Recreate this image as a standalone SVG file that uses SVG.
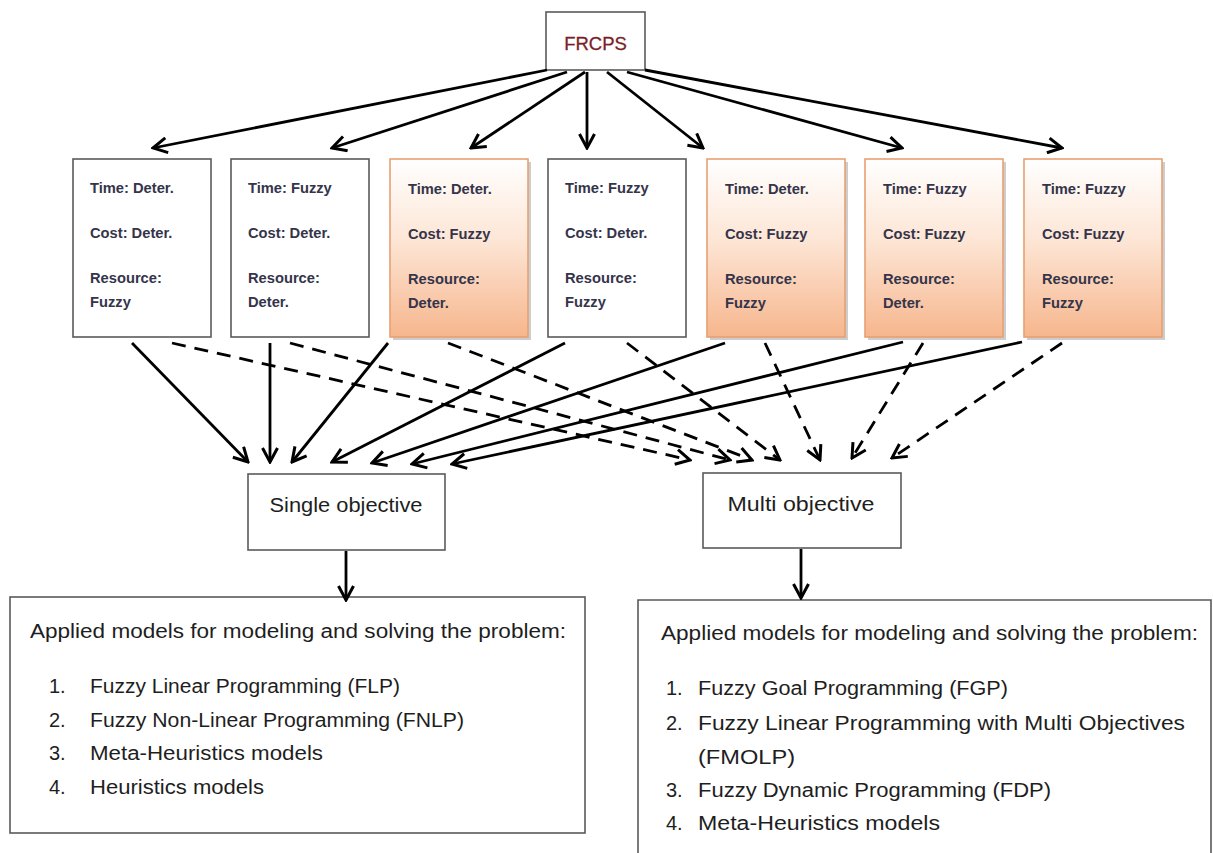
<svg xmlns="http://www.w3.org/2000/svg" width="1213" height="853" viewBox="0 0 1213 853">
<defs>
<linearGradient id="og" x1="0" y1="0" x2="0" y2="1">
<stop offset="0" stop-color="#ffffff"/>
<stop offset="0.45" stop-color="#fde6d6"/>
<stop offset="1" stop-color="#f6b68d"/>
</linearGradient>
<marker id="ah" markerUnits="userSpaceOnUse" viewBox="0 0 18 18" refX="16" refY="9" markerWidth="18" markerHeight="18" orient="auto">
<path d="M2,1.5 L16,9 L2,16.5" fill="none" stroke="#000" stroke-width="3" stroke-dasharray="none" stroke-linejoin="miter"/>
</marker>
</defs>
<style>
.box{fill:#fff;stroke:#5a5a5a;stroke-width:1.6}
.obox{fill:url(#og);stroke:#e8a072;stroke-width:1.6}
.shd{fill:#b8b8b8;opacity:0.7}
.bt{font-family:"Liberation Sans",Arial,sans-serif;font-size:14.7px;font-weight:bold;fill:#34344a}
.lt{font-family:"Liberation Sans",Arial,sans-serif;font-size:20px;fill:#1e1e1e}
.ot{font-family:"Liberation Sans",Arial,sans-serif;font-size:20px;fill:#1e1e1e;text-anchor:middle}
.ln{stroke:#000;stroke-width:2.8;fill:none;marker-end:url(#ah)}
.dl{stroke-dasharray:14 9}
</style>
<rect width="1213" height="853" fill="#fff"/>

<g id="frcps">
<rect class="box" x="546" y="12" width="99" height="58"/>
<text x="595.5" y="50" font-family="Liberation Sans, Arial, sans-serif" font-size="18.5" fill="#7a1f2a" stroke="#7a1f2a" stroke-width="0.3" text-anchor="middle">FRCPS</text>
</g>

<g id="case1">
<rect class="box" x="73" y="159" width="138" height="178"/>
<text class="bt" x="90" y="193">Time: Deter.</text>
<text class="bt" x="90" y="238">Cost: Deter.</text>
<text class="bt" x="90" y="283">Resource:</text>
<text class="bt" x="90" y="307">Fuzzy</text>
</g>
<g id="case2">
<rect class="box" x="231" y="159" width="138" height="178"/>
<text class="bt" x="248" y="193">Time: Fuzzy</text>
<text class="bt" x="248" y="238">Cost: Deter.</text>
<text class="bt" x="248" y="283">Resource:</text>
<text class="bt" x="248" y="307">Deter.</text>
</g>
<g id="case3">
<rect class="shd" x="393" y="162" width="138" height="178"/>
<rect class="obox" x="390" y="159" width="138" height="178"/>
<text class="bt" x="408" y="194">Time: Deter.</text>
<text class="bt" x="408" y="239">Cost: Fuzzy</text>
<text class="bt" x="408" y="284">Resource:</text>
<text class="bt" x="408" y="308">Deter.</text>
</g>
<g id="case4">
<rect class="box" x="548" y="159" width="138" height="178"/>
<text class="bt" x="565" y="193">Time: Fuzzy</text>
<text class="bt" x="565" y="238">Cost: Deter.</text>
<text class="bt" x="565" y="283">Resource:</text>
<text class="bt" x="565" y="307">Fuzzy</text>
</g>
<g id="case5">
<rect class="shd" x="710" y="162" width="138" height="178"/>
<rect class="obox" x="707" y="159" width="138" height="178"/>
<text class="bt" x="725" y="194">Time: Deter.</text>
<text class="bt" x="725" y="239">Cost: Fuzzy</text>
<text class="bt" x="725" y="284">Resource:</text>
<text class="bt" x="725" y="308">Fuzzy</text>
</g>
<g id="case6">
<rect class="shd" x="868" y="162" width="138" height="178"/>
<rect class="obox" x="865" y="159" width="138" height="178"/>
<text class="bt" x="883" y="194">Time: Fuzzy</text>
<text class="bt" x="883" y="239">Cost: Fuzzy</text>
<text class="bt" x="883" y="284">Resource:</text>
<text class="bt" x="883" y="308">Deter.</text>
</g>
<g id="case7">
<rect class="shd" x="1027" y="162" width="138" height="178"/>
<rect class="obox" x="1024" y="159" width="138" height="178"/>
<text class="bt" x="1042" y="194">Time: Fuzzy</text>
<text class="bt" x="1042" y="239">Cost: Fuzzy</text>
<text class="bt" x="1042" y="284">Resource:</text>
<text class="bt" x="1042" y="308">Fuzzy</text>
</g>

<g id="single">
<rect class="box" x="248" y="474" width="197" height="76"/>
<text class="ot" x="346" y="512" textLength="153" lengthAdjust="spacingAndGlyphs">Single objective</text>
</g>
<g id="multi">
<rect class="box" x="703" y="473" width="198" height="75"/>
<text class="ot" x="801" y="511" textLength="147" lengthAdjust="spacingAndGlyphs">Multi objective</text>
</g>

<g id="single-models">
<rect class="box" x="10" y="597" width="575" height="236"/>
<text class="lt" x="30" y="638" textLength="536" lengthAdjust="spacingAndGlyphs">Applied models for modeling and solving the problem:</text>
<text class="lt" x="49" y="693">1.</text>
<text class="lt" x="90" y="693" textLength="310" lengthAdjust="spacingAndGlyphs">Fuzzy Linear Programming (FLP)</text>
<text class="lt" x="49" y="727">2.</text>
<text class="lt" x="90" y="727" textLength="374" lengthAdjust="spacingAndGlyphs">Fuzzy Non-Linear Programming (FNLP)</text>
<text class="lt" x="49" y="760">3.</text>
<text class="lt" x="90" y="760" textLength="233" lengthAdjust="spacingAndGlyphs">Meta-Heuristics models</text>
<text class="lt" x="49" y="794">4.</text>
<text class="lt" x="90" y="794" textLength="174" lengthAdjust="spacingAndGlyphs">Heuristics models</text>
</g>

<g id="multi-models">
<path class="box" d="M638,860 L638,600 L1211,600 L1211,860" />
<text class="lt" x="661" y="640" textLength="537" lengthAdjust="spacingAndGlyphs">Applied models for modeling and solving the problem:</text>
<text class="lt" x="666" y="695">1.</text>
<text class="lt" x="698" y="695" textLength="310" lengthAdjust="spacingAndGlyphs">Fuzzy Goal Programming (FGP)</text>
<text class="lt" x="666" y="730">2.</text>
<text class="lt" x="698" y="730" textLength="487" lengthAdjust="spacingAndGlyphs">Fuzzy Linear Programming with Multi Objectives</text>
<text class="lt" x="698" y="764" textLength="97" lengthAdjust="spacingAndGlyphs">(FMOLP)</text>
<text class="lt" x="666" y="797">3.</text>
<text class="lt" x="698" y="797" textLength="353" lengthAdjust="spacingAndGlyphs">Fuzzy Dynamic Programming (FDP)</text>
<text class="lt" x="666" y="830">4.</text>
<text class="lt" x="698" y="830" textLength="242" lengthAdjust="spacingAndGlyphs">Meta-Heuristics models</text>
</g>

<g id="connectors">
<line class="ln" x1="547" y1="70" x2="153" y2="148"/>
<line class="ln" x1="567" y1="72" x2="332" y2="148"/>
<line class="ln" x1="585" y1="72" x2="471" y2="148"/>
<line class="ln" x1="587" y1="72" x2="587" y2="148"/>
<line class="ln" x1="607" y1="72" x2="703" y2="148"/>
<line class="ln" x1="627" y1="72" x2="902" y2="148"/>
<line class="ln" x1="645" y1="70" x2="1062" y2="148"/>

<line class="ln" x1="132" y1="343" x2="248" y2="462"/>
<line class="ln" x1="270" y1="343" x2="270" y2="462"/>
<line class="ln" x1="388" y1="343" x2="292" y2="462"/>
<line class="ln" x1="565" y1="343" x2="332" y2="462"/>
<line class="ln" x1="725" y1="343" x2="372" y2="463"/>
<line class="ln" x1="903" y1="342" x2="412" y2="464"/>
<line class="ln" x1="1022" y1="342" x2="452" y2="464"/>

<line class="ln dl" x1="172" y1="343" x2="690" y2="460"/>
<line class="ln dl" x1="290" y1="343" x2="730" y2="460"/>
<line class="ln dl" x1="448" y1="343" x2="752" y2="460"/>
<line class="ln dl" x1="627" y1="343" x2="780" y2="460"/>
<line class="ln dl" x1="765" y1="343" x2="820" y2="460"/>
<line class="ln dl" x1="923" y1="343" x2="852" y2="458"/>
<line class="ln dl" x1="1062" y1="343" x2="892" y2="458"/>

<line class="ln" x1="346" y1="551" x2="346" y2="600"/>
<line class="ln" x1="801" y1="549" x2="801" y2="598"/>
</g>
</svg>
